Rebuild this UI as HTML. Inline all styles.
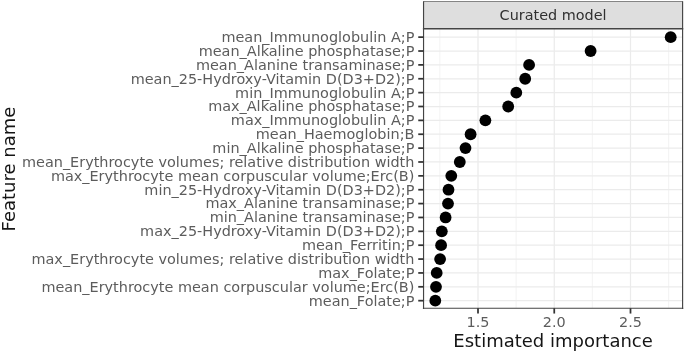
<!DOCTYPE html>
<html><head><meta charset="utf-8"><title>Curated model</title>
<style>
html,body{margin:0;padding:0;background:#fff;}
svg{display:block;font-family:"DejaVu Sans","Liberation Sans",sans-serif;}
</style></head><body>
<svg width="685" height="352" viewBox="0 0 685 352">
<rect x="0" y="0" width="685" height="352" fill="#ffffff"/>

<rect x="423.55" y="28.8" width="259.05" height="279.45" fill="#ffffff"/>
<g stroke="#ebebeb" stroke-width="0.6" fill="none">
<line x1="439.88" y1="28.8" x2="439.88" y2="308.25"/>
<line x1="516.12" y1="28.8" x2="516.12" y2="308.25"/>
<line x1="592.38" y1="28.8" x2="592.38" y2="308.25"/>
<line x1="668.62" y1="28.8" x2="668.62" y2="308.25"/>
</g>
<g stroke="#ebebeb" stroke-width="1.25" fill="none">
<line x1="478.00" y1="28.8" x2="478.00" y2="308.25"/>
<line x1="554.25" y1="28.8" x2="554.25" y2="308.25"/>
<line x1="630.50" y1="28.8" x2="630.50" y2="308.25"/>
<line x1="423.55" y1="37.15" x2="682.6" y2="37.15"/>
<line x1="423.55" y1="51.02" x2="682.6" y2="51.02"/>
<line x1="423.55" y1="64.89" x2="682.6" y2="64.89"/>
<line x1="423.55" y1="78.76" x2="682.6" y2="78.76"/>
<line x1="423.55" y1="92.63" x2="682.6" y2="92.63"/>
<line x1="423.55" y1="106.50" x2="682.6" y2="106.50"/>
<line x1="423.55" y1="120.37" x2="682.6" y2="120.37"/>
<line x1="423.55" y1="134.24" x2="682.6" y2="134.24"/>
<line x1="423.55" y1="148.11" x2="682.6" y2="148.11"/>
<line x1="423.55" y1="161.98" x2="682.6" y2="161.98"/>
<line x1="423.55" y1="175.85" x2="682.6" y2="175.85"/>
<line x1="423.55" y1="189.72" x2="682.6" y2="189.72"/>
<line x1="423.55" y1="203.59" x2="682.6" y2="203.59"/>
<line x1="423.55" y1="217.46" x2="682.6" y2="217.46"/>
<line x1="423.55" y1="231.33" x2="682.6" y2="231.33"/>
<line x1="423.55" y1="245.20" x2="682.6" y2="245.20"/>
<line x1="423.55" y1="259.07" x2="682.6" y2="259.07"/>
<line x1="423.55" y1="272.94" x2="682.6" y2="272.94"/>
<line x1="423.55" y1="286.81" x2="682.6" y2="286.81"/>
<line x1="423.55" y1="300.68" x2="682.6" y2="300.68"/>
</g>
<g fill="#000000">
<circle cx="670.7" cy="37.15" r="5.9"/>
<circle cx="590.6" cy="51.02" r="5.9"/>
<circle cx="529.1" cy="64.89" r="5.9"/>
<circle cx="525.2" cy="78.76" r="5.9"/>
<circle cx="516.3" cy="92.63" r="5.9"/>
<circle cx="508.2" cy="106.50" r="5.9"/>
<circle cx="485.4" cy="120.37" r="5.9"/>
<circle cx="470.6" cy="134.24" r="5.9"/>
<circle cx="465.5" cy="148.11" r="5.9"/>
<circle cx="459.8" cy="161.98" r="5.9"/>
<circle cx="451.3" cy="175.85" r="5.9"/>
<circle cx="448.5" cy="189.72" r="5.9"/>
<circle cx="448.0" cy="203.59" r="5.9"/>
<circle cx="445.6" cy="217.46" r="5.9"/>
<circle cx="441.8" cy="231.33" r="5.9"/>
<circle cx="441.1" cy="245.20" r="5.9"/>
<circle cx="440.1" cy="259.07" r="5.9"/>
<circle cx="436.7" cy="272.94" r="5.9"/>
<circle cx="436.0" cy="286.81" r="5.9"/>
<circle cx="435.3" cy="300.68" r="5.9"/>
</g>
<rect x="423.55" y="1.3" width="259.05" height="27.5" fill="#dedede"/>
<rect x="423.55" y="1.3" width="259.05" height="0.55" fill="#333333"/>
<g stroke="#444444" fill="none">
<line x1="423.55" y1="1.3" x2="423.55" y2="308.9" stroke-width="1.15"/>
<line x1="682.6" y1="1.3" x2="682.6" y2="308.9" stroke-width="1.15"/>
<line x1="422.90000000000003" y1="308.25" x2="683.25" y2="308.25" stroke-width="1.15"/>
<line x1="422.90000000000003" y1="28.8" x2="683.25" y2="28.8" stroke-width="1.55"/>
</g>
<text x="553.08" y="20.30" font-size="14.4" fill="#303030" text-anchor="middle">Curated model</text>
<g stroke="#333333" stroke-width="1.75">
<line x1="418.25" y1="37.15" x2="423.55" y2="37.15"/>
<line x1="418.25" y1="51.02" x2="423.55" y2="51.02"/>
<line x1="418.25" y1="64.89" x2="423.55" y2="64.89"/>
<line x1="418.25" y1="78.76" x2="423.55" y2="78.76"/>
<line x1="418.25" y1="92.63" x2="423.55" y2="92.63"/>
<line x1="418.25" y1="106.50" x2="423.55" y2="106.50"/>
<line x1="418.25" y1="120.37" x2="423.55" y2="120.37"/>
<line x1="418.25" y1="134.24" x2="423.55" y2="134.24"/>
<line x1="418.25" y1="148.11" x2="423.55" y2="148.11"/>
<line x1="418.25" y1="161.98" x2="423.55" y2="161.98"/>
<line x1="418.25" y1="175.85" x2="423.55" y2="175.85"/>
<line x1="418.25" y1="189.72" x2="423.55" y2="189.72"/>
<line x1="418.25" y1="203.59" x2="423.55" y2="203.59"/>
<line x1="418.25" y1="217.46" x2="423.55" y2="217.46"/>
<line x1="418.25" y1="231.33" x2="423.55" y2="231.33"/>
<line x1="418.25" y1="245.20" x2="423.55" y2="245.20"/>
<line x1="418.25" y1="259.07" x2="423.55" y2="259.07"/>
<line x1="418.25" y1="272.94" x2="423.55" y2="272.94"/>
<line x1="418.25" y1="286.81" x2="423.55" y2="286.81"/>
<line x1="418.25" y1="300.68" x2="423.55" y2="300.68"/>
<line x1="478.00" y1="308.25" x2="478.00" y2="313.55"/>
<line x1="554.25" y1="308.25" x2="554.25" y2="313.55"/>
<line x1="630.50" y1="308.25" x2="630.50" y2="313.55"/>
</g>
<g font-size="14.43" fill="#5c5c5c" text-anchor="end">
<text x="414.4" y="42.05">mean_Immunoglobulin A;P</text>
<text x="414.4" y="55.92">mean_Alkaline phosphatase;P</text>
<text x="414.4" y="69.79">mean_Alanine transaminase;P</text>
<text x="414.4" y="83.66">mean_25-Hydroxy-Vitamin D(D3+D2);P</text>
<text x="414.4" y="97.53">min_Immunoglobulin A;P</text>
<text x="414.4" y="111.40">max_Alkaline phosphatase;P</text>
<text x="414.4" y="125.27">max_Immunoglobulin A;P</text>
<text x="414.4" y="139.14">mean_Haemoglobin;B</text>
<text x="414.4" y="153.01">min_Alkaline phosphatase;P</text>
<text x="414.4" y="166.88">mean_Erythrocyte volumes; relative distribution width</text>
<text x="414.4" y="180.75">max_Erythrocyte mean corpuscular volume;Erc(B)</text>
<text x="414.4" y="194.62">min_25-Hydroxy-Vitamin D(D3+D2);P</text>
<text x="414.4" y="208.49">max_Alanine transaminase;P</text>
<text x="414.4" y="222.36">min_Alanine transaminase;P</text>
<text x="414.4" y="236.23">max_25-Hydroxy-Vitamin D(D3+D2);P</text>
<text x="414.4" y="250.10">mean_Ferritin;P</text>
<text x="414.4" y="263.97">max_Erythrocyte volumes; relative distribution width</text>
<text x="414.4" y="277.84">max_Folate;P</text>
<text x="414.4" y="291.71">mean_Erythrocyte mean corpuscular volume;Erc(B)</text>
<text x="414.4" y="305.58">mean_Folate;P</text>
</g>
<g font-size="14.4" fill="#5c5c5c" text-anchor="middle">
<text x="478.00" y="327.2">1.5</text>
<text x="554.25" y="327.2">2.0</text>
<text x="630.50" y="327.2">2.5</text>
</g>
<text x="553.08" y="347" font-size="18" fill="#151515" text-anchor="middle">Estimated importance</text>
<text transform="translate(14.5,169.03) rotate(-90)" font-size="18" fill="#151515" text-anchor="middle">Feature name</text>
</svg>
</body></html>
